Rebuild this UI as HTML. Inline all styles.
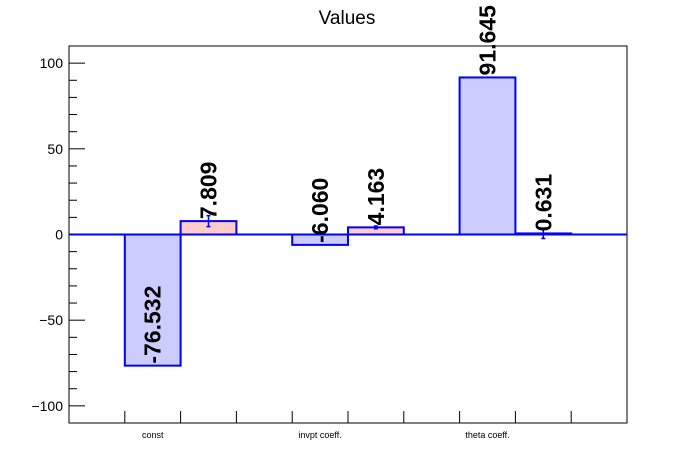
<!DOCTYPE html>
<html><head><meta charset="utf-8"><style>
body{margin:0;background:#fff}
svg{display:block;font-family:"Liberation Sans",sans-serif}
</style></head><body>
<svg id="chart" width="696" height="472" viewBox="0 0 696 472">
<rect width="696" height="472" fill="#fff"/>
<text x="347" y="24" font-size="19" text-anchor="middle">Values</text>
<g id="plot"></g>
</svg>
<script>
const categories = ["const", "invpt coeff.", "theta coeff."];
const seriesA = [-76.532, -6.060, 91.645];
const seriesB = [7.809, 4.163, 0.631];
const errorsB = [3.2, 0.8, 3.0];
const yTicks = [-100, -50, 0, 50, 100];

const L = 69, R = 627, T = 46, B = 423, yMin = -110, yMax = 110, nBins = 10;
const bw = (R - L) / nBins;
const xs = i => L + i * bw;
const ys = v => T + (yMax - v) / (yMax - yMin) * (B - T);
const NS = "http://www.w3.org/2000/svg";
const g = document.getElementById('plot');
function mk(tag, attrs, parent) {
  const e = document.createElementNS(NS, tag);
  for (const k in attrs) e.setAttribute(k, attrs[k]);
  (parent || g).appendChild(e);
  return e;
}
// frame
let e = mk('rect', {x: L, y: T, width: R - L, height: B - T, fill: 'none', stroke: '#000', 'stroke-width': 1});


// y ticks
for (let v = -110; v <= 110; v += 10) {
  const major = v % 50 === 0;
  e = mk('line', {x1: L, x2: L + (major ? 16 : 8), y1: ys(v), y2: ys(v), stroke: '#000', 'stroke-width': 1});
  
  
}
yTicks.forEach(v => {
  e = mk('text', {x: L - 6, y: ys(v) + 5, 'font-size': 14, 'text-anchor': 'end'});
  e.textContent = v < 0 ? '\u2212' + Math.abs(v) : String(v);
  
  
});
// x ticks
for (let i = 1; i < nBins; i++) {
  e = mk('line', {x1: xs(i), x2: xs(i), y1: B, y2: B - 12, stroke: '#000', 'stroke-width': 1});
  
  
}
categories.forEach((c, i) => {
  e = mk('text', {x: xs(3 * i + 2) - bw / 2 + 0, y: B + 15, 'font-size': 9, 'text-anchor': 'middle'});
  e.textContent = c;
  
  
});
// zero line
e = mk('line', {x1: L, x2: R, y1: ys(0), y2: ys(0), stroke: '#0000ff', 'stroke-width': 2});


function bar(bin, v, fill, name) {
  const x = xs(bin), y0 = ys(0), y1 = ys(v);
  e = mk('rect', {x: x, y: Math.min(y0, y1), width: bw, height: Math.abs(y1 - y0), fill: fill, stroke: '#0000ff', 'stroke-width': 2});
  
  
}
function label(bin, v) {
  const cx = xs(bin) + bw / 2, y = ys(v) - 2;
  e = mk('text', {x: 0, y: 0, 'font-size': 23, 'font-weight': 'bold', 'dominant-baseline': 'central', transform: `translate(${cx},${y}) rotate(-90)`});
  e.textContent = v.toFixed(3);
  
  
}
categories.forEach((c, i) => {
  bar(3 * i + 1, seriesA[i], '#ccccff', 'bar-a-' + i);
  bar(3 * i + 2, seriesB[i], '#ffcccc', 'bar-b-' + i);
  const cx = xs(3 * i + 2) + bw / 2;
  const et = ys(seriesB[i] + errorsB[i]), eb = ys(seriesB[i] - errorsB[i]);
  e = mk('path', {d: `M${cx},${et}V${eb}M${cx-2},${et}H${cx+2}M${cx-2},${eb}H${cx+2}`, stroke: '#0000ff', 'stroke-width': 1.5, fill: 'none'});
  
  
  label(3 * i + 1, seriesA[i]);
  label(3 * i + 2, seriesB[i]);
});
</script>
</body></html>
